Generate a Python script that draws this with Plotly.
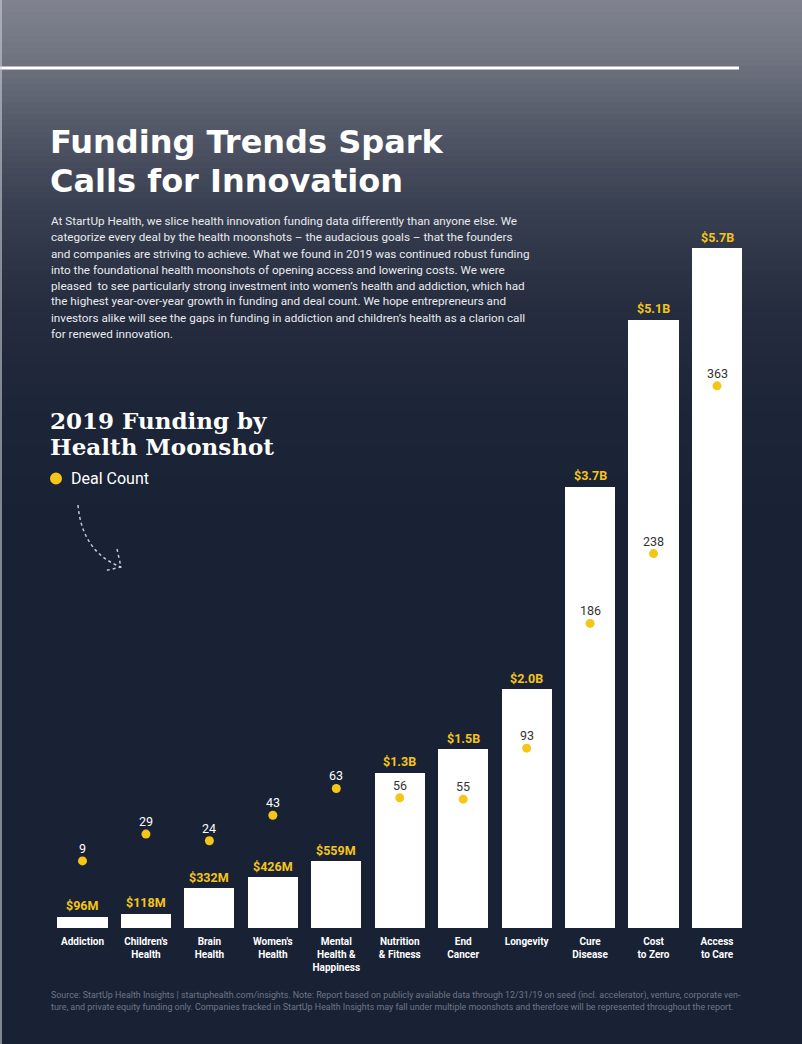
import plotly.graph_objects as go

# ---------------- data ----------------
categories = ["Addiction", "Children's Health", "Brain Health", "Women's Health",
              "Mental Health & Happiness", "Nutrition & Fitness", "End Cancer",
              "Longevity", "Cure Disease", "Cost to Zero", "Access to Care"]
tick_labels = ["Addiction", "Children's<br>Health", "Brain<br>Health",
               "Women's<br>Health", "Mental<br>Health &<br>Happiness",
               "Nutrition<br>& Fitness", "End<br>Cancer", "Longevity",
               "Cure<br>Disease", "Cost<br>to Zero", "Access<br>to Care"]
funding_b = [0.096, 0.118, 0.332, 0.426, 0.559, 1.3, 1.5, 2.0, 3.7, 5.1, 5.7]
funding_labels = ["$96M", "$118M", "$332M", "$426M", "$559M", "$1.3B", "$1.5B",
                  "$2.0B", "$3.7B", "$5.1B", "$5.7B"]
deal_count = [9, 29, 24, 43, 63, 56, 55, 93, 186, 238, 363]

title_lines = ["Funding Trends Spark", "Calls for Innovation"]
paragraph_lines = [
    "At StartUp Health, we slice health innovation funding data differently than anyone else. We",
    "categorize every deal by the health moonshots \u2013 the audacious goals \u2013 that the founders",
    "and companies are striving to achieve. What we found in 2019 was continued robust funding",
    "into the foundational health moonshots of opening access and lowering costs. We were",
    "pleased  to see particularly strong investment into women\u2019s health and addiction, which had",
    "the highest year-over-year growth in funding and deal count. We hope entrepreneurs and",
    "investors alike will see the gaps in funding in addiction and children\u2019s health as a clarion call",
    "for renewed innovation.",
]
subtitle_lines = ["2019 Funding by", "Health Moonshot"]
footer_lines = [
    "Source: StartUp Health Insights | startuphealth.com/insights. Note: Report based on publicly available data through 12/31/19 on seed (incl. accelerator), venture, corporate ven-",
    "ture, and private equity funding only. Companies tracked in StartUp Health Insights may fall under multiple moonshots and therefore will be represented throughout the report.",
]

# ---------------- geometry ----------------
W, H = 802, 1044
base_px = 928          # pixel row of zero funding (x axis line)
ppb = 680 / 5.7        # pixels per $B
deal_zero_px = 873
ppd = 1.342            # pixels per deal
x0_px, step_px = 82.5, 63.45

YELLOW = "#F5C518"
BG_BOTTOM = (25, 33, 52)

def py(p):
    return 1 - p / H

def px(p):
    return p / W

fig = go.Figure()
fig.add_trace(go.Bar(
    x=list(range(len(categories))), y=funding_b, width=0.79,
    marker=dict(color="#ffffff", line=dict(width=0)),
    hovertext=categories, name="Funding", showlegend=False,
))
fig.add_trace(go.Scatter(
    x=list(range(len(categories))), y=deal_count, yaxis="y2", mode="markers",
    marker=dict(color=YELLOW, size=9), name="Deal Count", showlegend=False,
    hovertext=categories, cliponaxis=False,
))

annotations = []
# funding labels above bars
for i, (v, lab) in enumerate(zip(funding_b, funding_labels)):
    annotations.append(dict(x=i, y=v, xref="x", yref="y", text=lab, showarrow=False,
                            yanchor="middle", yshift=11,
                            font=dict(family="Roboto", size=12.5, color=YELLOW, weight="bold")))
# deal count labels
for i, (d, f) in enumerate(zip(deal_count, funding_b)):
    dot_px = deal_zero_px - d * ppd
    inside = dot_px > base_px - f * ppb
    annotations.append(dict(x=i, y=d, xref="x", yref="y2", text=str(d), showarrow=False,
                            yanchor="middle", yshift=12.5,
                            font=dict(family="Roboto", size=12.5,
                                      color="#333333" if inside else "#ffffff")))
# title
for j, t in enumerate(title_lines):
    annotations.append(dict(x=px(48), y=py(142 + j * 39), xref="paper", yref="paper", text=t,
                            showarrow=False, xanchor="left", yanchor="middle",
                            font=dict(family="DejaVu Sans", size=32, color="#ffffff", weight="bold")))
# paragraph
for j, t in enumerate(paragraph_lines):
    annotations.append(dict(x=px(49), y=py(221.5 + j * 16.0), xref="paper", yref="paper", text=t,
                            showarrow=False, xanchor="left", yanchor="middle",
                            font=dict(family="Roboto", size=11.7, color="#e8eaee")))
# subtitle
for j, t in enumerate(subtitle_lines):
    annotations.append(dict(x=px(48), y=py(421 + j * 26), xref="paper", yref="paper", text=t,
                            showarrow=False, xanchor="left", yanchor="middle",
                            font=dict(family="DejaVu Serif", size=23, color="#ffffff", weight="bold")))
# legend text
annotations.append(dict(x=px(69), y=py(478.5), xref="paper", yref="paper", text="Deal Count",
                        showarrow=False, xanchor="left", yanchor="middle",
                        font=dict(family="Roboto", size=16, color="#ffffff")))
# footer
for j, t in enumerate(footer_lines):
    annotations.append(dict(x=px(49), y=py(996 + j * 11), xref="paper", yref="paper", text=t,
                            showarrow=False, xanchor="left", yanchor="middle",
                            font=dict(family="Roboto", size=8.9, color="#6f7787")))

# ---------------- background gradient ----------------
stops = [(0, (128, 131, 143)), (60, (111, 115, 128)), (120, (86, 91, 106)),
         (200, (58, 65, 82)), (300, (38, 45, 63)), (400, (29, 37, 56)), (520, BG_BOTTOM)]

def col_at(p):
    for (a, ca), (b, cb) in zip(stops[:-1], stops[1:]):
        if a <= p <= b:
            t = (p - a) / (b - a)
            return tuple(round(ca[k] + (cb[k] - ca[k]) * t) for k in range(3))
    return BG_BOTTOM

shapes = []
strip = 6
for p in range(0, 520, strip):
    c = col_at(p + strip / 2)
    shapes.append(dict(type="rect", xref="paper", yref="paper", x0=0, x1=1,
                       y0=py(p + strip + 0.5), y1=py(p), fillcolor="rgb(%d,%d,%d)" % c,
                       line=dict(width=0), layer="below"))
# top white rule
shapes.append(dict(type="rect", xref="paper", yref="paper", x0=0, x1=px(739),
                   y0=py(69.5), y1=py(66.5), fillcolor="#ffffff", line=dict(width=0)))
# left page edge
shapes.append(dict(type="line", xref="paper", yref="paper", x0=px(1), x1=px(1), y0=0, y1=1,
                   line=dict(color="rgba(200,203,210,0.8)", width=1.5)))
# legend dot
shapes.append(dict(type="circle", xref="paper", yref="paper", x0=px(50), x1=px(62),
                   y0=py(484.5), y1=py(472.5), fillcolor=YELLOW, line=dict(width=0)))

# dotted curved arrow
def P(x, y):
    return "%.5f,%.5f" % (px(x), py(y))

shapes.append(dict(type="path", xref="paper", yref="paper",
                   path="M %s Q %s %s" % (P(78, 505), P(82, 552), P(121, 567)),
                   line=dict(color="rgba(225,230,240,0.85)", width=1.5, dash="dot")))
shapes.append(dict(type="path", xref="paper", yref="paper",
                   path="M %s L %s L %s" % (P(117, 549), P(121, 567), P(104, 571)),
                   line=dict(color="rgba(225,230,240,0.85)", width=1.5, dash="dot")))

ydom = [(H - base_px) / H, 1]
fig.update_layout(
    width=W, height=H,
    margin=dict(l=0, r=0, t=0, b=0, pad=0, autoexpand=False),
    paper_bgcolor="rgb(%d,%d,%d)" % BG_BOTTOM,
    plot_bgcolor="rgba(0,0,0,0)",
    showlegend=False,
    bargap=0,
    xaxis=dict(range=[-x0_px / step_px, (W - x0_px) / step_px], domain=[0, 1],
               tickmode="array", tickvals=list(range(len(categories))), ticktext=tick_labels,
               tickfont=dict(family="Roboto", size=10, color="#ffffff", weight="bold"),
               ticks="", ticklabelstandoff=6,
               showgrid=False, zeroline=False, showline=False, fixedrange=True),
    yaxis=dict(range=[0, base_px / ppb], domain=ydom,
               showgrid=False, zeroline=False, showticklabels=False, ticks="", fixedrange=True),
    yaxis2=dict(range=[-(base_px - deal_zero_px) / ppd, deal_zero_px / ppd], domain=ydom,
                overlaying="y", showgrid=False, zeroline=False, showticklabels=False,
                ticks="", fixedrange=True),
    annotations=annotations,
    shapes=shapes,
)

fig.write_html("out.html", config={"displayModeBar": False},
               post_script="document.body.style.margin='0px';document.body.style.overflow='hidden';")
